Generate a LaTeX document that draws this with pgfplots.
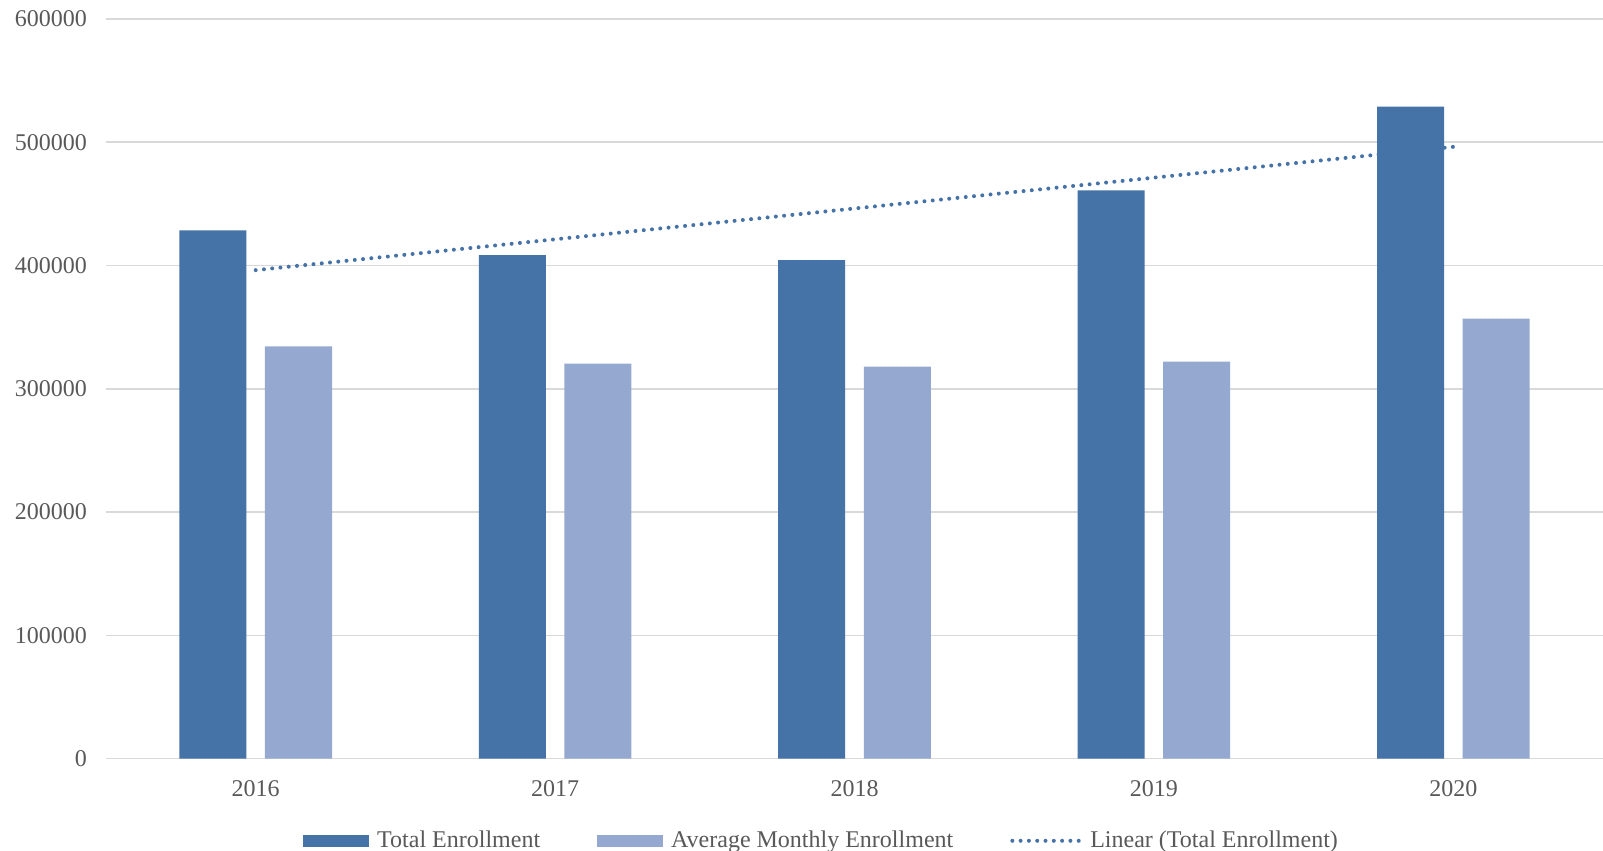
\documentclass[border=0pt]{standalone}
\usepackage{pgfplots}
\pgfplotsset{compat=1.18}
\usepackage{fontspec}
\setmainfont{Liberation Serif}
\definecolor{darkb}{HTML}{4572A7}
\definecolor{lightb}{HTML}{95A9D0}
\definecolor{gridc}{HTML}{D9D9D9}
\definecolor{txt}{HTML}{595959}
\begin{document}
\begin{tikzpicture}
\useasboundingbox (0,0) rectangle (801.5pt,425.5pt);
\begin{axis}[
  at={(53pt,46.15pt)}, anchor=south west,
  scale only axis, width=748.5pt, height=369.85pt,
  xmin=-0.5, xmax=4.5, ymin=0, ymax=600000,
  xtick={0,1,2,3,4}, xticklabels={2016,2017,2018,2019,2020},
  ytick={0,100000,200000,300000,400000,500000,600000},
  yticklabels={0,100000,200000,300000,400000,500000,600000},
  scaled ticks=false,
  major tick length=0pt,
  axis y line*=left, axis x line*=bottom,
  y axis line style={draw=none},
  x axis line style={draw=gridc, line width=0.8pt, -},
  ymajorgrids, grid style={draw=gridc, line width=0.8pt},
  tick label style={font=\fontsize{12}{14}\selectfont, text=txt},
  yticklabel style={xshift=-6pt},
  xticklabel style={yshift=-7.5pt},
  ybar, bar width=33.5pt,
  legend columns=3,
  legend style={at={(0.48,-0.111)}, anchor=center, draw=none, fill=none,
    font=\fontsize{12}{14}\selectfont, text=txt,
    /tikz/every even column/.append style={column sep=24.5pt},
    nodes={inner sep=2pt, inner xsep=4pt}},
  clip=false,
]
\addplot[fill=darkb, draw=none, bar shift=-21.4pt,
  legend image code/.code={\fill[darkb] (0pt,-3pt) rectangle (33pt,3pt);}]
  coordinates {(0,428500) (1,408500) (2,404500) (3,461000) (4,529000)};
\addlegendentry{Total Enrollment}
\addplot[fill=lightb, draw=none, bar shift=21.4pt,
  legend image code/.code={\fill[lightb] (0pt,-3pt) rectangle (33pt,3pt);}]
  coordinates {(0,334500) (1,320500) (2,318000) (3,322000) (4,357000)};
\addlegendentry{Average Monthly Enrollment}
\addplot[sharp plot, draw=darkb, line width=2pt, line cap=round, dash pattern=on 0pt off 4.15pt,
  legend image code/.code={\draw[darkb, line width=2pt, line cap=round, dash pattern=on 0pt off 4.15pt] (1pt,0pt) -- (35pt,0pt);}]
  coordinates {(0,396300) (4,496300)};
\addlegendentry{Linear (Total Enrollment)}
\end{axis}
\end{tikzpicture}
\end{document}
